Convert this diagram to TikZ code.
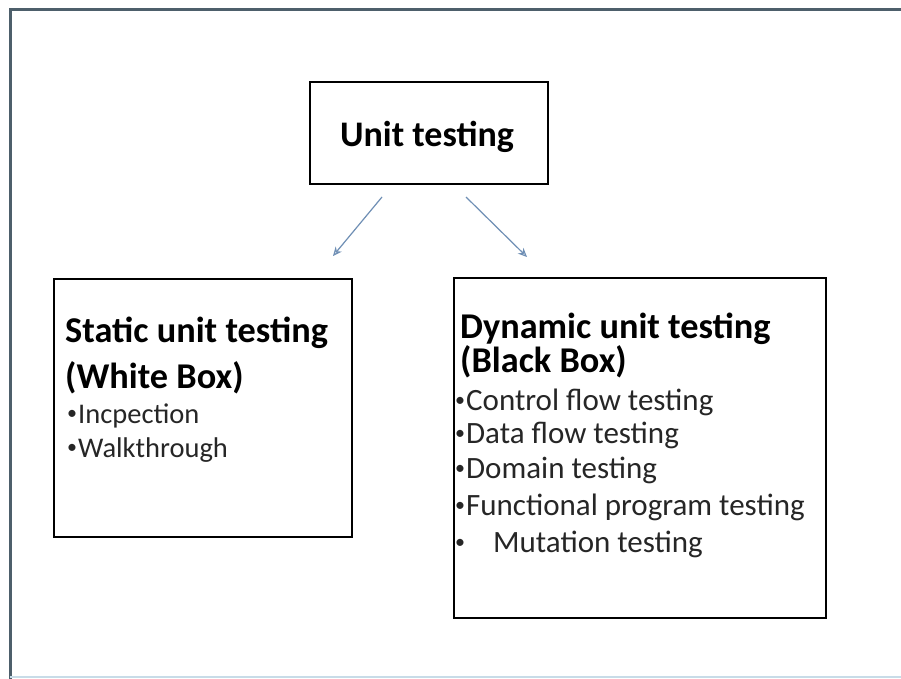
\documentclass[tikz,border=0pt]{standalone}
\usepackage{fontspec}
\setmainfont{Carlito}
\usetikzlibrary{arrows.meta}
\definecolor{framecol}{HTML}{4D5F6B}
\definecolor{arrowcol}{HTML}{6F8FB5}
\definecolor{bottomcol}{HTML}{C8DCE8}
\definecolor{itemcol}{HTML}{262626}
% small raised list bullet
\newcommand\listdot{\raisebox{3.5pt}{\fontsize{20}{20}\selectfont •}}
\tikzset{
  box/.style={draw=black, line width=1.5pt, fill=white},
  heading/.style={anchor=base west, inner sep=0pt, font=\fontsize{36.3}{36.3}\selectfont\bfseries, text=black},
  item/.style={anchor=base west, inner sep=0pt, font=\fontsize{31}{31}\selectfont, text=itemcol},
  smallitem/.style={item, font=\fontsize{28.5}{28.5}\selectfont},
  link/.style={draw=arrowcol, line width=1.2pt, -{Stealth[length=9pt,width=8pt,open]}},
}
\begin{document}
\begin{tikzpicture}[x=1pt, y=-1pt]
  \useasboundingbox (0,0) rectangle (901,679);
  \fill[white] (0,0) rectangle (901,679);
  % page frame: dark top and left edge, pale bottom edge
  \draw[framecol, line width=3pt] (10,679) -- (10,9.5) -- (901,9.5);
  \draw[bottomcol, line width=1.5pt] (10,677) -- (901,677);

  % boxes
  \node[box, minimum width=238pt, minimum height=102pt] (unit) at (429,133) {};
  \node[box, minimum width=298pt, minimum height=258pt] (static) at (203,408) {};
  \node[box, minimum width=372pt, minimum height=340pt] (dynamic) at (640,448) {};

  \node[anchor=base, inner sep=0pt, font=\fontsize{36}{36}\selectfont\bfseries] (unitlbl) at (427,147) {Unit testing};

  % static unit testing
  \node[heading] (sh1) at (65,342) {Static unit testing};
  \node[heading] (sh2) at (65,388) {(White Box)};
  \node[smallitem] (si1) at (67,423) {\listdot\hspace{1pt}Incpection};
  \node[smallitem] (si2) at (67,457) {\listdot\hspace{1pt}Walkthrough};

  % dynamic unit testing
  \node[heading] (dh1) at (460,338) {Dynamic unit testing};
  \node[heading] (dh2) at (460,372) {(Black Box)};
  \node[item] (di1) at (455,410) {\listdot\hspace{1pt}Control flow testing};
  \node[item] (di2) at (455,443) {\listdot\hspace{1pt}Data flow testing};
  \node[item] (di3) at (455,478) {\listdot\hspace{1pt}Domain testing};
  \node[item] (di4) at (455,515) {\listdot\hspace{1pt}Functional program testing};
  \node[item] (di5) at (455,552) {\listdot\hspace{28pt}Mutation testing};

  % arrows
  \coordinate (la) at (382,197);
  \coordinate (lb) at (333,256);
  \coordinate (ra) at (466,197);
  \coordinate (rb) at (527,257);
  \draw[link] (la) -- (lb);
  \draw[link] (ra) -- (rb);
\end{tikzpicture}
\end{document}
